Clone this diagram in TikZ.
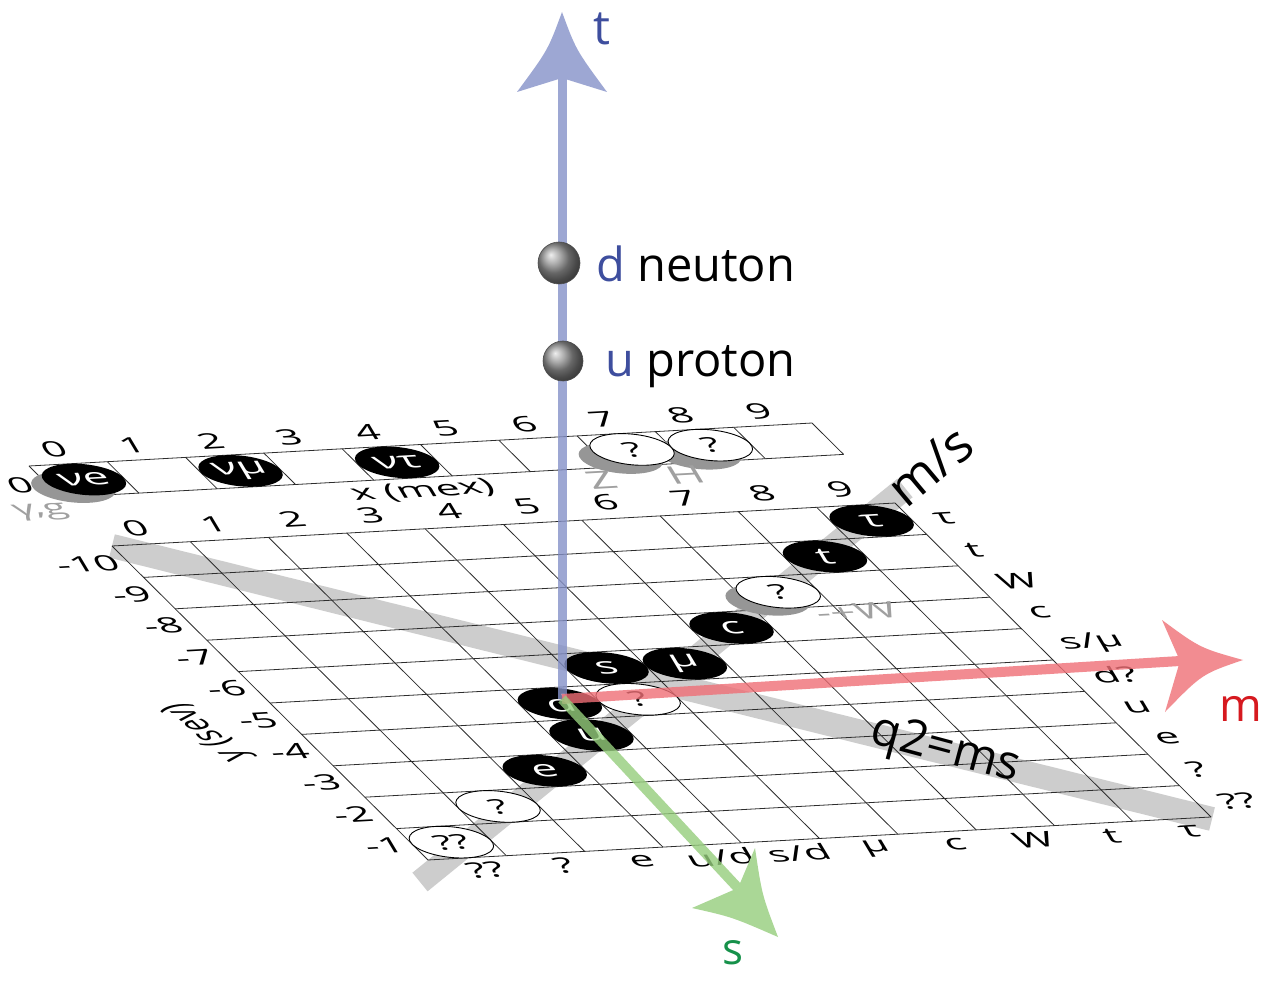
\documentclass[tikz,border=0pt]{standalone}
\usepackage{fontspec}
\setmainfont{Open Sans}
\definecolor{bandgray}{RGB}{205,205,205}
\definecolor{gridc}{RGB}{45,45,45}
\definecolor{shad}{RGB}{150,150,150}
\definecolor{lblgray}{RGB}{160,160,160}
\definecolor{bluel}{RGB}{133,145,200}
\definecolor{blueh}{RGB}{157,167,211}
\definecolor{bluet}{RGB}{62,78,158}
\definecolor{redl}{RGB}{239,111,118}
\definecolor{redh}{RGB}{242,140,145}
\definecolor{redt}{RGB}{214,25,31}
\definecolor{greenl}{RGB}{149,205,124}
\definecolor{greenh}{RGB}{170,215,150}
\definecolor{greent}{RGB}{22,145,74}
\tikzset{
 gl/.style={draw=gridc, line width=0.8pt},
 band/.style={draw=bandgray, line width=24pt},
 lab/.style={transform shape, inner sep=0pt, font=\fontsize{42}{46}\selectfont},
 glab/.style={lab, text=lblgray},
 blk/.style={fill=black},
 wht/.style={fill=white, draw=black, line width=0.9pt},
 shd/.style={fill=shad},
 elab/.style={transform shape, inner sep=0pt, text=white, font=\fontsize{45}{48}\selectfont},
 qlab/.style={transform shape, inner sep=0pt, text=black, font=\fontsize{40}{44}\selectfont},
 sphere/.style={circle, inner sep=0pt, minimum size=42pt, shading=ball, ball color=gray!85, draw=black!70, line width=0.6pt},
 big/.style={inner sep=0pt, font=\fontsize{47}{50}\selectfont},
 plane/.style={x=78.3pt, y=-78.3pt},
 textframe/.style={cm={1,0.055,-0.30,0.50,(0pt,0pt)}}
}
\begin{document}
\begin{tikzpicture}[x=1pt,y=-1pt]
\useasboundingbox (0,0) rectangle (1280,981);
\fill[white] (0,0) rectangle (1280,981);

% grey bands
\coordinate (qA) at (112,546); \coordinate (qB) at (1212,819);
\draw[band] (qA) -- (qB);
\coordinate (msA) at (420,882); \coordinate (msB) at (905,488);
\draw[band] (msA) -- (msB);

% back strip (x axis, mex)
\begin{scope}[cm={1,0.0549,-0.4036,0.4010,(29pt,-466pt)}, plane]
 \foreach \i in {0,...,10} {\draw[gl] (\i,0) -- (\i,1);}
 \draw[gl] (0,0) -- (10,0); \draw[gl] (0,1) -- (10,1);
 \foreach \k in {0,...,9} {\coordinate (st\k) at (\k+0.5,-0.45);}
 \coordinate (sz) at (-0.34,0.56);
 \coordinate (sg) at (-0.41,1.41);
 \coordinate (sx) at (4.46,1.41);
 \coordinate (sZ) at (6.75,1.38);
 \coordinate (sH) at (7.83,1.36);
 \coordinate (sve) at (0.5,0.5); \coordinate (svm) at (2.5,0.5); \coordinate (svt) at (4.5,0.5);
 \coordinate (sqH) at (8.5,0.5); \coordinate (sqZ) at (7.5,0.5);
 % shadows
 \fill[shd] (0.28,0.71) circle[radius=39.15pt];
 \fill[shd] (8.26,0.74) circle[radius=39.15pt];
 \fill[shd] (7.26,0.74) circle[radius=39.15pt];
 % particles
 \fill[blk] (sve) circle[radius=39.15pt];
 \fill[blk] (svm) circle[radius=39.15pt];
 \fill[blk] (svt) circle[radius=39.15pt];
 \path[wht] (sqH) circle[radius=39.15pt];
 \path[wht] (sqZ) circle[radius=39.15pt];
\end{scope}

% main grid
\begin{scope}[cm={1,0.0549,-0.4036,0.4010,(112pt,-546pt)}, plane]
 \foreach \i in {0,...,10} {\draw[gl] (\i,0) -- (\i,10); \draw[gl] (0,\i) -- (10,\i);}
 \foreach \k in {0,...,9} {
   \coordinate (tk\k) at (\k+0.5,-0.5);
   \coordinate (lj\k) at (-0.12,\k+0.5);
   \coordinate (bk\k) at (\k+0.57,10.4);
   \coordinate (rj\k) at (10.28,\k+0.55);
 }
 \coordinate (ysev) at (-1.12,5.78);
 \coordinate (wpm) at (8.2,3.22);
 % shadow
 \fill[shd] (7.28,2.71) circle[radius=39.15pt];
 % particles
 \coordinate (mtau) at (9.5,0.5); \coordinate (mt) at (8.5,1.5);
 \coordinate (mq72) at (7.5,2.5); \coordinate (mc) at (6.5,3.5);
 \coordinate (ms) at (4.5,4.5); \coordinate (mmu) at (5.5,4.5);
 \coordinate (md) at (3.5,5.5); \coordinate (mq45) at (4.5,5.5);
 \coordinate (mu) at (3.5,6.5); \coordinate (me) at (2.5,7.5);
 \coordinate (mq18) at (1.5,8.5); \coordinate (mqq09) at (0.5,9.5);
 \fill[blk] (mtau) circle[radius=39.15pt];
 \fill[blk] (mt) circle[radius=39.15pt];
 \path[wht] (mq72) circle[radius=39.15pt];
 \fill[blk] (mc) circle[radius=39.15pt];
 \fill[blk] (ms) circle[radius=39.15pt];
 \fill[blk] (mmu) circle[radius=39.15pt];
 \fill[blk] (md) circle[radius=39.15pt];
 \path[wht] (mq45) circle[radius=39.15pt];
 \fill[blk] (mu) circle[radius=39.15pt];
 \fill[blk] (me) circle[radius=39.15pt];
 \path[wht] (mq18) circle[radius=39.15pt];
 \path[wht] (mqq09) circle[radius=39.15pt];
\end{scope}

% in-plane texts
\begin{scope}[textframe]
 \foreach \k in {0,...,9} {\node[lab] at (st\k) {\k}; \node[lab] at (tk\k) {\k};}
 \node[lab] at (sz) {0};
 \node[glab] at (sg) {γ,g};
 \node[lab] at (sx) {x (mex)};
 \node[glab, font=\fontsize{48}{52}\selectfont] at (sZ) {Z};
 \node[glab, font=\fontsize{48}{52}\selectfont] at (sH) {H};
 \node[glab, font=\fontsize{44}{48}\selectfont] at (wpm) {-+W};
 \foreach \j/\t in {0/-10,1/-9,2/-8,3/-7,4/-6,5/-5,6/-4,7/-3,8/-2,9/-1} {\node[lab, anchor=east] at (lj\j) {\t};}
 \foreach \k/\t in {0/{??},1/{?},2/{e},3/{u/d},4/{s/d},5/{μ},6/{c},7/{W},8/{t},9/{τ}} {\node[lab] at (bk\k) {\t};}
 \foreach \j/\t in {0/{τ},1/{t},2/{W},3/{c},4/{s/μ},5/{d?},6/{u},7/{e},8/{?},9/{??}} {\node[lab, anchor=west] at (rj\j) {\t};}
 \node[lab, rotate=105] at (ysev) {y (sev)};
 \node[elab] at (sve) {νe};
 \node[elab] at (svm) {νμ};
 \node[elab] at (svt) {ντ};
 \node[qlab] at (sqZ) {?};
 \node[qlab] at (sqH) {?};
 \node[elab] at (mtau) {τ};
 \node[elab] at (mt) {t};
 \node[qlab] at (mq72) {?};
 \node[elab] at (mc) {c};
 \node[elab] at (ms) {s};
 \node[elab] at (mmu) {μ};
 \node[elab] at (md) {d};
 \node[qlab] at (mq45) {?};
 \node[elab] at (mu) {u};
 \node[elab] at (me) {e};
 \node[qlab] at (mq18) {?};
 \node[qlab] at (mqq09) {??};
\end{scope}

% band labels
\node[inner sep=0pt, rotate=40, font=\fontsize{52}{56}\selectfont] (mslab) at (930,466) {m/s};
\node[inner sep=0pt, rotate=-15, font=\fontsize{48}{52}\selectfont] (qlab) at (945,751) {q2=ms};

% axes
\coordinate (O) at (562,699);
\coordinate (bN) at (562,78);
\coordinate (rN) at (1180,661);
\coordinate (gN) at (738,888);
\draw[line width=9pt, draw=bluel, opacity=.8] (O) -- (bN);
\fill[blueh] (562,12) .. controls (548,50) .. (517,92) -- (bN) -- (607,92) .. controls (576,50) .. (562,12);
\draw[line width=10pt, draw=redl, opacity=.8] (O) -- (rN);
\fill[redh] (1243,660) .. controls (1200,648) .. (1162,620) -- (rN) -- (1165,712) .. controls (1202,674) .. (1243,660);
\draw[line width=10pt, draw=greenl, opacity=.8] (O) -- (gN);
\fill[greenh] (778,937) .. controls (732,917) .. (692,908) -- (gN) -- (755,848) .. controls (762,895) .. (778,937);

\node[inner sep=0pt, text=bluet, font=\fontsize{48}{52}\selectfont] (tl) at (602,29) {t};
\node[inner sep=0pt, text=redt, font=\fontsize{46}{50}\selectfont] (ml) at (1241,709) {m};
\node[inner sep=0pt, text=greent, font=\fontsize{44}{48}\selectfont] (sl) at (733,953) {s};

% spheres and labels
\node[sphere] (sd) at (559,263) {};
\node[sphere, minimum size=40pt] (su) at (563,361) {};
\node[big, anchor=base west] (dn) at (596,282) {\textcolor{bluet}{d} neuton};
\node[big, anchor=base west] (up) at (605,377) {\textcolor{bluet}{u} proton};
\end{tikzpicture}
\end{document}
